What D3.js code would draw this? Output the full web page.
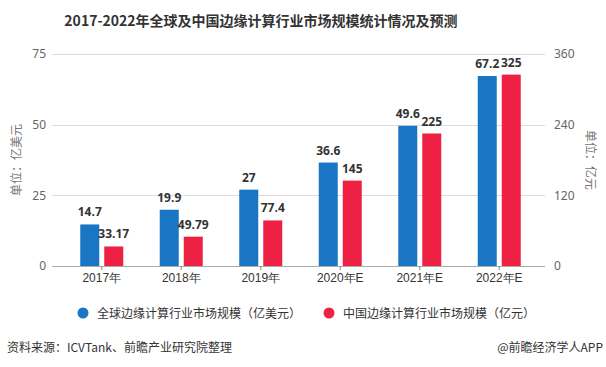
<!DOCTYPE html>
<html><head><meta charset="utf-8">
<script src="https://cdn.jsdelivr.net/npm/d3@7"></script>
<style>body{margin:0;background:#fff;}svg{display:block;font-family:"Noto Sans CJK SC","Noto Sans",sans-serif;}</style>
</head><body>
<script>
const categories = ["2017年","2018年","2019年","2020年E","2021年E","2022年E"];
const globalValues = [14.7,19.9,27,36.6,49.6,67.2];
const chinaValues = [33.17,49.79,77.4,145,225,325];
const globalLabels = ["14.7","19.9","27","36.6","49.6","67.2"];
const chinaLabels = ["33.17","49.79","77.4","145","225","325"];
const leftTicks = [0,25,50,75];
const rightTicks = [0,120,240,360];
const seriesNames = ["全球边缘计算行业市场规模（亿美元）","中国边缘计算行业市场规模（亿元）"];
const colors = ["#1a75c4","#ee2145"];

(function(){
const W=606,H=367;
const svg=d3.select("body").append("svg").attr("width",W).attr("height",H);
const plotTop=54,plotBottom=266;
const x=d3.scaleBand().domain(categories).range([62,539]).padding(0);
const xs=d3.scaleBand().domain([0,1]).range([-21.5,21.5]).paddingInner(5/24).paddingOuter(0);
const yL=d3.scaleLinear().domain([0,75]).range([plotBottom,plotTop]);
const yR=d3.scaleLinear().domain([0,360]).range([plotBottom,plotTop]);

svg.append("text").attr("x",261).attr("y",26).attr("text-anchor","middle")
 .attr("font-size",14).attr("font-weight","bold").attr("fill","#333")
 .text("2017-2022年全球及中国边缘计算行业市场规模统计情况及预测");

svg.append("g").selectAll("line").data(leftTicks.slice(1)).join("line")
 .attr("x1",52).attr("x2",545).attr("y1",d=>Math.round(yL(d))+0.5).attr("y2",d=>Math.round(yL(d))+0.5)
 .attr("stroke","#dcdcdc");

const gL=svg.append("g").attr("transform","translate(50,0)")
 .call(d3.axisLeft(yL).tickValues(leftTicks).tickSize(0).tickPadding(4));
gL.select(".domain").remove();
gL.selectAll("text").attr("font-size",12).attr("fill","#666").attr("font-family","'Noto Sans','DejaVu Sans',sans-serif");

const gR=svg.append("g").attr("transform","translate(550,0)")
 .call(d3.axisRight(yR).tickValues(rightTicks).tickSize(0).tickPadding(4));
gR.select(".domain").remove();
gR.selectAll("text").attr("font-size",12).attr("fill","#666").attr("font-family","'Noto Sans','DejaVu Sans',sans-serif");

const gB=svg.append("g").attr("transform",`translate(0,${plotBottom})`)
 .call(d3.axisBottom(x).tickSize(4).tickPadding(3));
gB.select(".domain").attr("stroke","#aaa").attr("d","M52,0.5H545");
gB.selectAll(".tick line").attr("stroke","#888");
gB.selectAll("text").attr("font-size",12).attr("fill","#333");

svg.append("text").attr("transform","translate(21,160) rotate(-90)").attr("text-anchor","middle")
 .attr("font-size",12).attr("fill","#777").text("单位：亿美元");
svg.append("text").attr("transform","translate(586,160) rotate(90)").attr("text-anchor","middle")
 .attr("font-size",12).attr("fill","#777").text("单位：亿元");

const bars=svg.append("g");
const series=[{vals:globalValues,labels:globalLabels,y:yL},{vals:chinaValues,labels:chinaLabels,y:yR}];
series.forEach((s,si)=>{
 bars.append("g").selectAll("rect").data(s.vals).join("rect")
  .attr("x",(d,i)=>x(categories[i])+x.bandwidth()/2+xs(si))
  .attr("width",xs.bandwidth())
  .attr("y",d=>s.y(d)).attr("height",d=>plotBottom-s.y(d))
  .attr("fill",colors[si]);
 bars.append("g").selectAll("text").data(s.vals).join("text")
  .attr("x",(d,i)=>x(categories[i])+x.bandwidth()/2+xs(si)+xs.bandwidth()/2)
  .attr("y",d=>s.y(d)-8).attr("text-anchor","middle")
  .attr("font-size",12).attr("font-weight","bold").attr("fill","#333")
  .attr("font-family","'Open Sans','Noto Sans',sans-serif")
  .text((d,i)=>s.labels[i]);
});

const leg=[{x:83,t:seriesNames[0]},{x:329,t:seriesNames[1]}];
leg.forEach((l,i)=>{
 svg.append("circle").attr("cx",l.x).attr("cy",313).attr("r",5.5).attr("fill",colors[i]);
 svg.append("text").attr("x",l.x+14).attr("y",317.5).attr("font-size",12).attr("fill","#333").text(l.t);
});

svg.append("text").attr("x",7).attr("y",352).attr("font-size",12).attr("fill","#333").text("资料来源：ICVTank、前瞻产业研究院整理");
svg.append("text").attr("x",603).attr("y",352).attr("text-anchor","end").attr("font-size",12).attr("fill","#333").text("@前瞻经济学人APP");
})();
</script>
</body></html>
